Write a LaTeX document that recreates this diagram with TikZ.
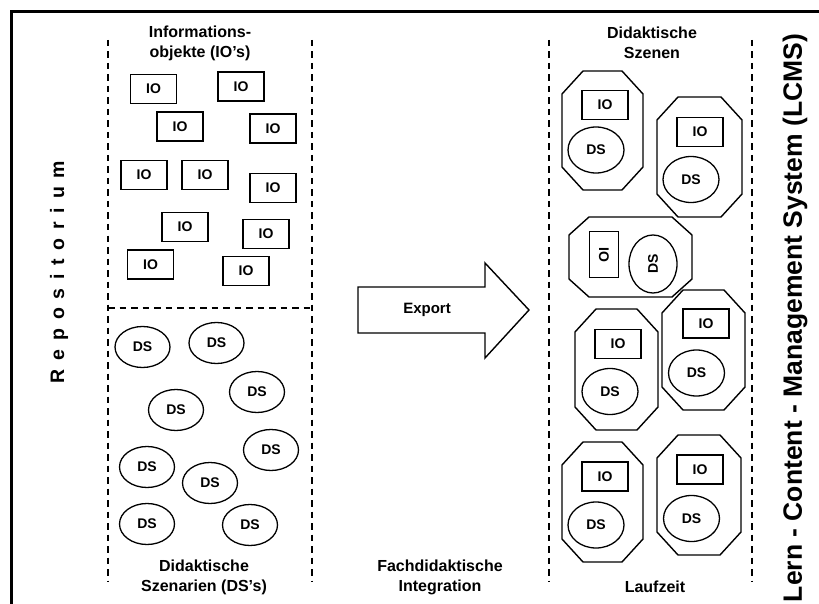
\documentclass[tikz,border=0pt]{standalone}
\usepackage{fontspec}
\setmainfont{Liberation Sans}
\newfontfamily\spreadfont[LetterSpace=45]{Liberation Sans}
\usetikzlibrary{shapes.geometric}

\tikzset{
  io/.style={draw, line width=1.3pt, minimum width=46pt, minimum height=29pt, inner sep=0pt,
    font=\fontsize{14}{14}\selectfont\bfseries},
  ds/.style={draw, ellipse, line width=1.3pt, minimum width=55pt, minimum height=41pt, inner sep=0pt,
    font=\fontsize{14}{14}\selectfont\bfseries},
  sds/.style={ds, minimum width=56pt, minimum height=46pt},
  heading/.style={align=center, inner sep=0pt, font=\fontsize{16}{20}\selectfont\bfseries},
  dashline/.style={line width=1.6pt, dash pattern=on 6.5pt off 5pt},
  scenebox/.style={line width=1.4pt},
  frame/.style={line width=3.6pt}
}

% octagon: x1 y1 x2 y2 cutx cuty
\newcommand\scene[6]{\draw[scenebox] ({#1+#5},#2) -- ({#3-#5},#2) -- (#3,{#2+#6}) -- (#3,{#4-#6})
  -- ({#3-#5},#4) -- ({#1+#5},#4) -- (#1,{#4-#6}) -- (#1,{#2+#6}) -- cycle;}

\begin{document}
\begin{tikzpicture}[x=1pt, y=-1pt]
\useasboundingbox (0,0) rectangle (819,604);
\fill[white] (0,0) rectangle (819,604);

% frame
\draw[frame] (830,11.5) -- (11.5,11.5) -- (11.5,615);

% columns
\draw[dashline] (108,40) -- (108,582);
\draw[dashline] (312,40) -- (312,582);
\draw[dashline] (108,308) -- (312,308);
\draw[dashline] (549,40) -- (549,582);
\draw[dashline] (752,40) -- (752,582);

% side titles
\node[rotate=90, font=\fontsize{19.5}{20}\spreadfont\bfseries] (repo) at (59,272) {Repositorium};
\node[rotate=90, font=\fontsize{26.5}{27}\selectfont\bfseries] (lcms) at (795,318) {Lern - Content - Management System (LCMS)};

% headings
\node[heading] (infoobj) at (200,43) {Informations-\\objekte (IO’s)};
\node[heading] (didszen) at (204,577) {Didaktische\\Szenarien (DS’s)};
\node[heading] (fachint) at (440,577) {Fachdidaktische\\Integration};
\node[heading] (didsc) at (652,43) {Didaktische\\Szenen};
\node[heading] (laufzeit) at (655,587) {Laufzeit};

% repository objects
\foreach \x/\y [count=\i] in {153.5/89, 241/86.5, 180/126.5, 273/128.5, 144/175, 205/175,
    273/188, 185/227, 266/234, 150.5/264.5, 246/271}
  \node[io] (io\i) at (\x,\y) {IO};
\foreach \x/\y [count=\i] in {142.5/347, 216.5/343, 257/392, 176/410, 271/450,
    147/467, 210/483, 147/524, 250/525}
  \node[ds] (ds\i) at (\x,\y) {DS};

% export arrow
\draw[scenebox] (358,287) -- (485,287) -- (485,263) -- (529,310) -- (485,358) -- (485,333) -- (358,333) -- cycle;
\node[font=\fontsize{15}{15}\selectfont\bfseries] (export) at (427,310) {Export};

% didactic scenes
\scene{562}{71}{643}{190}{21}{23}
\node[io] (sio1) at (605,105) {IO};
\node[sds] (sds1) at (596,150) {DS};
\scene{657}{97}{742}{217}{21}{23}
\node[io] (sio2) at (700,132) {IO};
\node[sds] (sds2) at (691,179.5) {DS};
\scene{569}{217}{692}{297}{20}{18}
\node[io, rotate=-90] (sio3) at (604,254.5) {IO};
\node[sds, rotate=90, minimum width=58pt, minimum height=48pt] (sds3) at (653,264) {DS};
\scene{575}{309}{658}{430}{21}{23}
\node[io] (sio4) at (618,344) {IO};
\node[sds] (sds4) at (610,391.5) {DS};
\scene{662}{290}{745}{410}{21}{23}
\node[io] (sio5) at (706,323.5) {IO};
\node[sds] (sds5) at (696.5,373) {DS};
\scene{562}{442}{643}{562}{21}{23}
\node[io] (sio6) at (605,476.5) {IO};
\node[sds] (sds6) at (596,525) {DS};
\scene{657}{435}{741}{555}{21}{23}
\node[io] (sio7) at (700,469.5) {IO};
\node[sds] (sds7) at (691.5,518.5) {DS};
\end{tikzpicture}
\end{document}
